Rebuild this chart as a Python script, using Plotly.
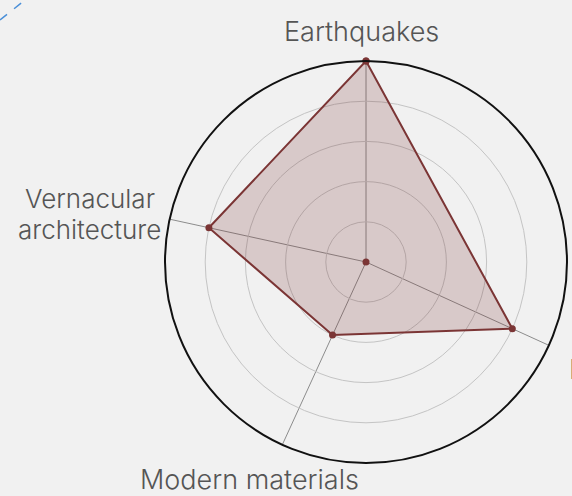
import plotly.graph_objects as go

categories = ["Earthquakes", "Resilience", "Modern materials", "Vernacular<br>architecture"]
values = [5, 4, 2, 4]
axis_angles = [90, 335.5, 245.4, 167.7]
center_value = [0]

W, H = 572, 496
cx, cy, R = 366, 262, 201

line_col = "#7b3535"
bg = "#f1f1f1"

# label placement per line (pixels from top-left), anchor, size
label_pos = [
    [(361, 32, "center", 27)],
    [(568, 369, "left", 27)],
    [(249, 479, "center", 27)],
    [(90, 199, "center", 26), (89, 229, "center", 26)],
]

fig = go.Figure()
fig.add_trace(go.Scatterpolar(
    r=values + values[:1],
    theta=axis_angles + axis_angles[:1],
    mode="lines+markers",
    fill="toself",
    fillcolor="rgba(123,53,53,0.21)",
    line=dict(color=line_col, width=2),
    marker=dict(color=line_col, size=7),
    hoverinfo="skip",
    showlegend=False,
))
fig.add_trace(go.Scatterpolar(
    r=center_value,
    theta=[0],
    mode="markers",
    marker=dict(color=line_col, size=7),
    hoverinfo="skip",
    showlegend=False,
))

annotations = []
for text, positions in zip(categories, label_pos):
    for line, (px, py, anc, sz) in zip(text.split("<br>"), positions):
        annotations.append(dict(
            text=line, xref="paper", yref="paper",
            x=px / W, y=1 - py / H, xanchor=anc, yanchor="middle",
            showarrow=False, align="center", borderpad=0,
            font=dict(size=sz, color="#555555", weight=300,
                      family="Inter, Lato, sans-serif"),
        ))

fig.update_layout(
    width=W, height=H,
    margin=dict(l=0, r=0, t=0, b=0),
    paper_bgcolor=bg,
    plot_bgcolor=bg,
    font=dict(family="Inter, Lato, sans-serif", color="#555555"),
    polar=dict(
        domain=dict(x=[(cx - R) / W, (cx + R) / W],
                    y=[(H - cy - R) / H, (H - cy + R) / H]),
        bgcolor="rgba(0,0,0,0)",
        radialaxis=dict(range=[0, 5], tickvals=[1, 2, 3, 4, 5],
                        showticklabels=False, ticks="",
                        showline=False, gridcolor="#c4c4c4", gridwidth=1),
        angularaxis=dict(thetaunit="degrees", direction="counterclockwise",
                         rotation=0, tickmode="array",
                         tickvals=axis_angles, ticktext=categories,
                         showticklabels=False,
                         ticks="", showline=True, linecolor="#111111",
                         linewidth=2, gridcolor="#8c8c8c", gridwidth=1),
    ),
    annotations=annotations,
    shapes=[dict(type="line", xref="paper", yref="paper",
                 x0=0.0, y0=(H - 20) / H, x1=25 / W, y1=1.0,
                 line=dict(color="#4a8fd8", width=1.5, dash="dash"))],
)

fig.write_html("out.html", config={"displayModeBar": False},
               post_script="document.body.style.margin='0';document.body.style.background='%s';document.body.style.overflow='hidden';" % bg)
